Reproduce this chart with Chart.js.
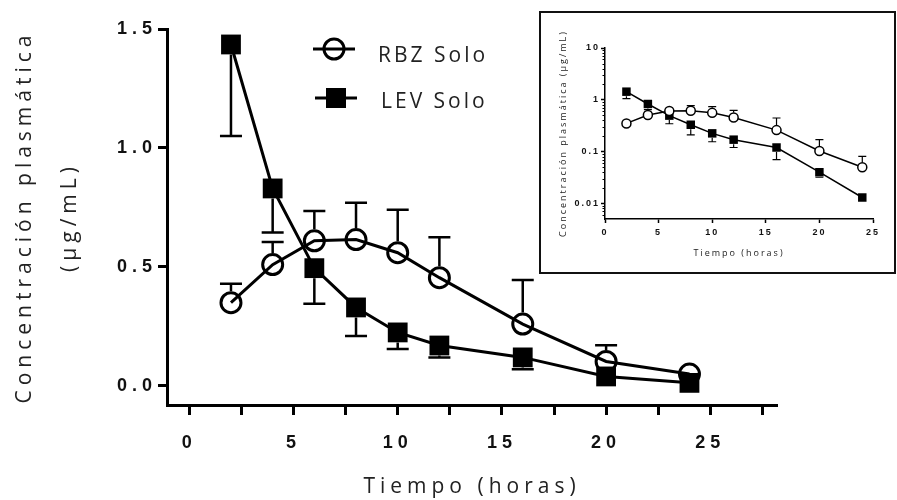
<!DOCTYPE html>
<html><head><meta charset="utf-8">
<script src="https://cdn.jsdelivr.net/npm/chart.js@4.4.1/dist/chart.umd.min.js"></script>
<style>
html,body{margin:0;padding:0;background:#fff;}
#wrap{position:relative;width:897px;height:500px;overflow:hidden;background:#fff;}
#main{position:absolute;left:0;top:0;}
#insetBox{position:absolute;left:539px;top:11px;width:357px;height:263px;border:2px solid #111;box-sizing:border-box;background:#fff;}
#inset{position:absolute;left:0;top:0;}
</style></head>
<body>
<div id="wrap">
<canvas id="main" width="897" height="500"></canvas>
<div id="insetBox"><canvas id="inset" width="353" height="259"></canvas></div>
</div>
<script>
// ---- data ----
const times   = [2, 4, 6, 8, 10, 12, 16, 20, 24];
const rbzMean = [0.35, 0.51, 0.61, 0.615, 0.56, 0.455, 0.26, 0.103, 0.05];
const rbzSD   = [0.08, 0.095, 0.125, 0.155, 0.18, 0.17, 0.185, 0.068, 0.031];
const levMean = [1.435, 0.83, 0.495, 0.33, 0.225, 0.17, 0.12, 0.04, 0.013];
const levSD   = [0.385, 0.185, 0.15, 0.12, 0.07, 0.05, 0.05, 0.008, 0.002];
const seriesNames = ['RBZ Solo', 'LEV Solo'];
const mainXTicks = [0, 2.5, 5, 7.5, 10, 12.5, 15, 17.5, 20, 22.5, 25, 27.5];
const mainYTicks = [0, 0.5, 1.0, 1.5];
const insetXTicks = [0, 5, 10, 15, 20, 25];
const insetYTicks = [0.01, 0.1, 1, 10];
const insetYMinor = [0.006, 0.007, 0.008, 0.009,
  0.02, 0.03, 0.04, 0.05, 0.06, 0.07, 0.08, 0.09,
  0.2, 0.3, 0.4, 0.5, 0.6, 0.7, 0.8, 0.9,
  2, 3, 4, 5, 6, 7, 8, 9];
const yTitleMain = ['Concentración plasmática', '(μg/mL)'];
const yTitleInset = 'Concentración plasmática (μg/mL)';
const xTitle = 'Tiempo (horas)';

const pts = arr => times.map((t, i) => ({x: t, y: arr[i]}));

// letter spacing plugin
const spacingPlugin = {
  id: 'spacing',
  beforeDraw(chart, args, opts) { chart.ctx.letterSpacing = opts.px || '0px'; }
};

// error bars plugin
const errPlugin = {
  id: 'errbars',
  afterDatasetsDraw(chart, args, opts) {
    const ctx = chart.ctx, xs = chart.scales.x, ys = chart.scales.y;
    ctx.save();
    ctx.strokeStyle = '#000';
    ctx.lineWidth = opts.lineWidth;
    opts.bars.forEach(b => {
      const ds = chart.data.datasets[b.index];
      ds.data.forEach((p, i) => {
        const end = b.dir > 0 ? p.y + b.sd[i] : p.y - b.sd[i];
        if (end <= 0 && ys.type === 'logarithmic') return;
        const px = xs.getPixelForValue(p.x);
        const py = ys.getPixelForValue(p.y);
        const pe = ys.getPixelForValue(end);
        if (Math.abs(pe - py) <= b.gap) return;
        const start = py + (pe < py ? -b.gap : b.gap);
        ctx.beginPath();
        ctx.moveTo(px, start); ctx.lineTo(px, pe);
        ctx.moveTo(px - opts.cap, pe); ctx.lineTo(px + opts.cap, pe);
        ctx.stroke();
      });
    });
    ctx.restore();
  }
};

// legend plugin (main chart)
const legendPlugin = {
  id: 'lineLegend',
  afterDraw(chart, args, opts) {
    if (!opts.items) return;
    const ctx = chart.ctx;
    ctx.save();
    ctx.letterSpacing = '3px';
    ctx.font = '21px "Open Sans"';
    ctx.fillStyle = '#222';
    ctx.textAlign = 'left';
    ctx.textBaseline = 'alphabetic';
    opts.items.forEach((it, k) => {
      ctx.strokeStyle = '#000';
      ctx.lineWidth = 3;
      ctx.beginPath(); ctx.moveTo(it.x0, it.y); ctx.lineTo(it.x1, it.y); ctx.stroke();
      const cx = (it.x0 + it.x1) / 2;
      if (it.shape === 'circle') {
        ctx.beginPath(); ctx.arc(cx, it.y, 10, 0, Math.PI * 2); ctx.stroke();
      } else {
        ctx.fillStyle = '#000';
        ctx.fillRect(cx - 10, it.y - 10, 20, 20);
        ctx.fillStyle = '#222';
      }
      ctx.fillText(chart.data.datasets[k].label, it.tx, it.ty);
    });
    ctx.restore();
  }
};

// minor log ticks for inset
const minorPlugin = {
  id: 'minorTicks',
  afterDraw(chart, args, opts) {
    if (!opts.values) return;
    const ctx = chart.ctx, ys = chart.scales.y, left = chart.chartArea.left;
    ctx.save();
    ctx.strokeStyle = '#000'; ctx.lineWidth = 1;
    opts.values.forEach(v => {
      if (v < ys.min || v > ys.max) return;
      const py = Math.round(ys.getPixelForValue(v)) + 0.5;
      ctx.beginPath(); ctx.moveTo(left - 2.5, py); ctx.lineTo(left, py); ctx.stroke();
    });
    ctx.restore();
  }
};

Chart.register(spacingPlugin, errPlugin, legendPlugin, minorPlugin);

// ---- main chart ----
new Chart(document.getElementById('main'), {
  type: 'line',
  data: {
    datasets: [
      {label: seriesNames[0], data: pts(rbzMean), borderColor: '#000', borderWidth: 3,
       pointStyle: 'circle', pointRadius: 10, pointBorderWidth: 3, pointBorderColor: '#000',
       pointBackgroundColor: 'rgba(0,0,0,0)', fill: false, tension: 0},
      {label: seriesNames[1], data: pts(levMean), borderColor: '#000', borderWidth: 3,
       pointStyle: 'rect', pointRadius: 14, pointBorderWidth: 0, pointBorderColor: '#000',
       pointBackgroundColor: '#000', fill: false, tension: 0}
    ]
  },
  options: {
    responsive: false, animation: false, events: [],
    layout: {padding: {left: 0, top: 29, right: 120, bottom: 0}},
    plugins: {
      legend: {display: false}, tooltip: {enabled: false},
      spacing: {px: '5px'},
      errbars: {lineWidth: 2.5, cap: 11, bars: [
        {index: 0, sd: rbzSD, dir: 1, gap: 11.5},
        {index: 1, sd: levSD, dir: -1, gap: 10}
      ]},
      lineLegend: {items: [
        {shape: 'circle', x0: 313, x1: 355, y: 49, tx: 378, ty: 61.5},
        {shape: 'rect', x0: 315, x1: 357, y: 98, tx: 381, ty: 108}
      ]}
    },
    scales: {
      x: {
        type: 'linear', min: -1.07, max: 28.2, bounds: 'data',
        afterBuildTicks: s => { s.ticks = mainXTicks.map(v => ({value: v})); },
        afterFit: s => { s.height = 95; },
        border: {display: true, color: '#000', width: 3},
        grid: {display: true, drawOnChartArea: false, drawTicks: true, tickLength: 10, tickWidth: 3, tickColor: '#000'},
        ticks: {autoSkip: false, maxRotation: 0, padding: 17, color: '#111',
          font: {family: 'Liberation Sans', weight: 'bold', size: 18},
          callback: v => (v % 5 === 0 ? String(v) : '')},
        title: {display: true, text: xTitle, color: '#222', padding: {top: 0, bottom: 0.5},
          font: {family: 'Open Sans', size: 21, lineHeight: 1.2}}
      },
      y: {
        type: 'linear', min: -0.08, max: 1.5, bounds: 'data',
        afterBuildTicks: s => { s.ticks = mainYTicks.map(v => ({value: v})); },
        afterFit: s => { s.width = 167; },
        border: {display: true, color: '#000', width: 3},
        grid: {display: true, drawOnChartArea: false, drawTicks: true, tickLength: 9, tickWidth: 3, tickColor: '#000'},
        ticks: {autoSkip: false, padding: 1, color: '#111',
          font: {family: 'Liberation Sans', weight: 'bold', size: 18},
          callback: v => Number(v).toFixed(1)},
        title: {display: true, text: yTitleMain, color: '#222', padding: {top: 2.5, bottom: 0},
          font: {family: 'Open Sans', size: 21, lineHeight: 45 / 21}}
      }
    }
  }
});

// ---- inset chart (log scale) ----
new Chart(document.getElementById('inset'), {
  type: 'line',
  data: {
    datasets: [
      {label: seriesNames[0], data: pts(rbzMean), borderColor: '#000', borderWidth: 1.5,
       pointStyle: 'circle', pointRadius: 4.5, pointBorderWidth: 1.5, pointBorderColor: '#000',
       pointBackgroundColor: '#fff', fill: false, tension: 0},
      {label: seriesNames[1], data: pts(levMean), borderColor: '#000', borderWidth: 1.5,
       pointStyle: 'rect', pointRadius: 6, pointBorderWidth: 0,
       pointBackgroundColor: '#000', fill: false, tension: 0}
    ]
  },
  options: {
    responsive: false, animation: false, events: [],
    layout: {padding: {left: 0, top: 35, right: 21, bottom: 0}},
    plugins: {
      legend: {display: false}, tooltip: {enabled: false},
      spacing: {px: '2px'},
      errbars: {lineWidth: 1.2, cap: 4, bars: [
        {index: 0, sd: rbzSD, dir: 1, gap: 5},
        {index: 1, sd: levSD, dir: -1, gap: 4.5}
      ]},
      minorTicks: {values: insetYMinor}
    },
    scales: {
      x: {
        type: 'linear', min: 0, max: 25, bounds: 'data',
        afterBuildTicks: s => { s.ticks = insetXTicks.map(v => ({value: v})); },
        afterFit: s => { s.height = 53; },
        border: {display: true, color: '#000', width: 1.5},
        grid: {display: true, drawOnChartArea: false, drawTicks: true, tickLength: 4, tickWidth: 1.5, tickColor: '#000'},
        ticks: {autoSkip: false, maxRotation: 0, padding: 4.6, color: '#111',
          font: {family: 'Liberation Sans', weight: 'bold', size: 9},
          callback: v => String(v)},
        title: {display: true, text: xTitle, color: '#222', padding: {top: 0, bottom: 13.6},
          font: {family: 'Open Sans', size: 9, lineHeight: 1.2}}
      },
      y: {
        type: 'logarithmic', min: 0.005, max: 10, bounds: 'data',
        afterBuildTicks: s => { s.ticks = insetYTicks.map(v => ({value: v})); },
        afterFit: s => { s.width = 64; },
        border: {display: true, color: '#000', width: 1.5},
        grid: {display: true, drawOnChartArea: false, drawTicks: true, tickLength: 4, tickWidth: 1.5, tickColor: '#000'},
        ticks: {autoSkip: false, padding: 1, color: '#111',
          font: {family: 'Liberation Sans', weight: 'bold', size: 9},
          callback: v => String(v)},
        title: {display: true, text: yTitleInset, color: '#222', padding: {top: 16.6, bottom: 0},
          font: {family: 'Open Sans', size: 9, lineHeight: 1.2}}
      }
    }
  }
});
</script>
</body></html>
